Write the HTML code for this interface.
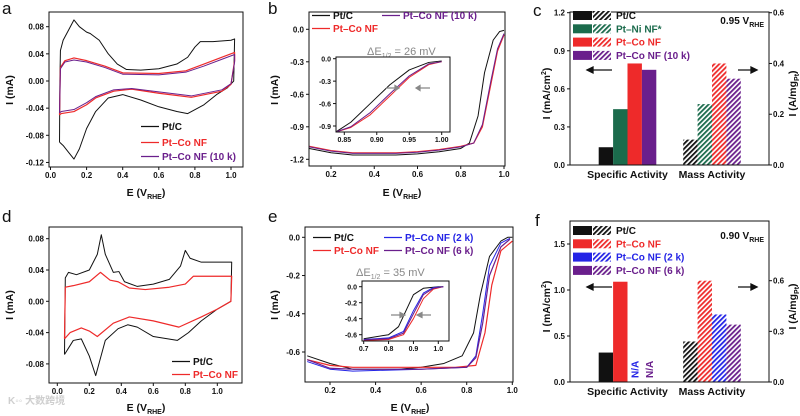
<!DOCTYPE html>
<html><head><meta charset="utf-8">
<style>
html,body{margin:0;padding:0;background:#fff;}
svg{display:block;font-family:"Liberation Sans","Noto Sans CJK SC",sans-serif;}
.t{font-size:8px;font-weight:bold;fill:#111;}
.ti{font-size:7px;font-weight:bold;fill:#111;}
.at{font-size:10.5px;font-weight:bold;fill:#111;}
.lg{font-size:10px;font-weight:bold;}
.pl{font-size:17px;fill:#111;}
</style></head>
<body>
<svg id="fig" width="800" height="416" viewBox="0 0 800 416">
<defs>
<pattern id="h-black" width="3.5" height="3.5" patternUnits="userSpaceOnUse" patternTransform="rotate(45)"><rect width="3.5" height="3.5" fill="#fff"/><rect width="1.8" height="3.5" fill="#111"/></pattern>
<pattern id="h-green" width="3.5" height="3.5" patternUnits="userSpaceOnUse" patternTransform="rotate(45)"><rect width="3.5" height="3.5" fill="#fff"/><rect width="1.8" height="3.5" fill="#1b6b4c"/></pattern>
<pattern id="h-red" width="3.5" height="3.5" patternUnits="userSpaceOnUse" patternTransform="rotate(45)"><rect width="3.5" height="3.5" fill="#fff"/><rect width="1.8" height="3.5" fill="#ee2a2a"/></pattern>
<pattern id="h-purple" width="3.5" height="3.5" patternUnits="userSpaceOnUse" patternTransform="rotate(45)"><rect width="3.5" height="3.5" fill="#fff"/><rect width="1.8" height="3.5" fill="#6a1f8c"/></pattern>
<pattern id="h-blue" width="3.5" height="3.5" patternUnits="userSpaceOnUse" patternTransform="rotate(45)"><rect width="3.5" height="3.5" fill="#fff"/><rect width="1.8" height="3.5" fill="#2424e6"/></pattern>
</defs>
</svg>
<script>
// ---------- data ----------
// panel a (CV)
const aE_pt = [0.05,0.052,0.055,0.07,0.1,0.13,0.16,0.2,0.22,0.27,0.32,0.37,0.42,0.5,0.6,0.7,0.76,0.8,0.83,0.9,1.0,1.02,1.015,0.98,0.92,0.85,0.76,0.7,0.6,0.5,0.4,0.32,0.25,0.2,0.16,0.13,0.1,0.07,0.05,0.05];
const aI_pt = [-0.09,0.0,0.045,0.06,0.075,0.09,0.08,0.072,0.07,0.06,0.04,0.025,0.017,0.016,0.018,0.025,0.035,0.05,0.058,0.058,0.06,0.062,0.0,-0.01,-0.02,-0.035,-0.048,-0.045,-0.038,-0.028,-0.02,-0.025,-0.045,-0.07,-0.1,-0.115,-0.105,-0.095,-0.09,-0.09];
const aE_co = [0.05,0.055,0.08,0.13,0.2,0.3,0.4,0.6,0.75,0.85,0.95,1.02,1.02,1.0,0.95,0.78,0.6,0.45,0.35,0.25,0.2,0.13,0.06,0.05];
const aI_co = [-0.05,0.02,0.03,0.034,0.03,0.022,0.012,0.011,0.015,0.025,0.035,0.042,0.03,-0.005,-0.015,-0.024,-0.018,-0.012,-0.015,-0.025,-0.035,-0.045,-0.048,-0.05];
const aI_10k = [-0.047,0.018,0.028,0.031,0.028,0.02,0.01,0.009,0.013,0.022,0.032,0.039,0.028,-0.004,-0.013,-0.022,-0.016,-0.011,-0.013,-0.023,-0.032,-0.042,-0.045,-0.047];
// panel b (LSV)
const bE_pt = [0.1,0.2,0.3,0.5,0.6,0.7,0.8,0.84,0.88,0.91,0.95,0.98,1.0];
const bI_pt = [-1.10,-1.14,-1.16,-1.16,-1.15,-1.13,-1.10,-1.05,-0.8,-0.4,-0.1,-0.02,-0.01];
const bE_co = [0.1,0.2,0.3,0.5,0.6,0.7,0.8,0.86,0.9,0.94,0.97,1.0];
const bI_co = [-1.08,-1.12,-1.14,-1.14,-1.13,-1.11,-1.08,-1.05,-0.9,-0.5,-0.2,-0.05];
const bI_10k = [-1.085,-1.125,-1.145,-1.145,-1.135,-1.115,-1.085,-1.05,-0.88,-0.47,-0.18,-0.04];
const biE = [0.837,0.86,0.89,0.92,0.95,0.98,1.0];
const biI_pt = [-0.98,-0.85,-0.6,-0.35,-0.15,-0.05,-0.03];
const biI_co = [-0.98,-0.92,-0.75,-0.5,-0.25,-0.08,-0.04];
const biI_10k = [-0.98,-0.91,-0.72,-0.47,-0.23,-0.07,-0.04];
// panel c (bars)
const cCats = ['Specific Activity','Mass Activity'];
const cSeries = ['Pt/C','Pt–Ni NF*','Pt–Co NF','Pt–Co NF (10 k)'];
const cSpecific = [0.14,0.44,0.80,0.75];
const cMass = [0.10,0.24,0.40,0.34];
const cLeftTicks = ['0.0','0.3','0.6','0.9','1.2'];
const cRightTicks = ['0.0','0.2','0.4','0.6'];
// panel d (CV)
const dE_pt = [0.045,0.05,0.07,0.12,0.2,0.25,0.275,0.3,0.35,0.385,0.42,0.5,0.6,0.7,0.77,0.8,0.83,0.9,1.09,1.085,1.0,0.9,0.82,0.75,0.6,0.5,0.44,0.38,0.3,0.24,0.2,0.15,0.1,0.045];
const dI_pt = [-0.068,0.03,0.037,0.034,0.04,0.06,0.085,0.06,0.037,0.038,0.025,0.019,0.022,0.028,0.045,0.065,0.055,0.05,0.05,0.0,-0.01,-0.025,-0.04,-0.05,-0.045,-0.033,-0.03,-0.035,-0.05,-0.095,-0.07,-0.048,-0.05,-0.068];
const dE_co = [0.045,0.05,0.1,0.2,0.27,0.33,0.38,0.45,0.55,0.7,0.8,0.85,1.09,1.085,1.0,0.9,0.76,0.6,0.45,0.35,0.25,0.2,0.15,0.08,0.045];
const dI_co = [-0.048,0.018,0.02,0.025,0.037,0.027,0.025,0.017,0.015,0.018,0.022,0.032,0.032,0.0,-0.01,-0.02,-0.033,-0.025,-0.02,-0.028,-0.045,-0.038,-0.034,-0.04,-0.048];
// panel e (LSV)
const eE_pt = [0.1,0.2,0.3,0.5,0.6,0.7,0.78,0.83,0.86,0.9,0.95,0.98,1.0];
const eI_pt = [-0.62,-0.66,-0.69,-0.69,-0.68,-0.66,-0.62,-0.5,-0.3,-0.1,-0.02,0.0,0.0];
const eE_co = [0.1,0.2,0.3,0.6,0.75,0.84,0.88,0.91,0.95,1.0];
const eI_co = [-0.64,-0.67,-0.68,-0.68,-0.68,-0.67,-0.5,-0.25,-0.07,-0.02];
const eE_2k = [0.1,0.2,0.3,0.6,0.8,0.84,0.87,0.9,0.95,0.99];
const eI_2k = [-0.65,-0.69,-0.70,-0.69,-0.68,-0.62,-0.4,-0.15,-0.03,-0.005];
const eI_6k = [-0.64,-0.685,-0.69,-0.69,-0.68,-0.63,-0.45,-0.2,-0.05,-0.01];
const eiE_pt = [0.7,0.8,0.84,0.87,0.9,0.94,1.0,1.02];
const eiI_pt = [-0.65,-0.6,-0.5,-0.3,-0.1,-0.02,0.0,0.0];
const eiE_co = [0.7,0.8,0.86,0.9,0.94,0.98,1.02];
const eiI_co = [-0.67,-0.66,-0.6,-0.4,-0.15,-0.03,0.0];
const eiI_2k = [-0.66,-0.64,-0.56,-0.3,-0.08,-0.01,0.0];
const eiI_6k = [-0.665,-0.65,-0.58,-0.34,-0.1,-0.02,0.0];
// panel f (bars)
const fSeries = ['Pt/C','Pt–Co NF','Pt–Co NF (2 k)','Pt–Co NF (6 k)'];
const fSpecific = [0.32,1.09,null,null];
const fMass = [0.24,0.60,0.40,0.34];
const fLeftTicks = ['0.0','0.5','1.0','1.5'];
const fRightTicks = ['0.0','0.3','0.6'];

// ---------- helpers ----------
const NS='http://www.w3.org/2000/svg';
const svg=document.getElementById('fig');
function mk(tag,attrs,parent){const e=document.createElementNS(NS,tag);for(const k in attrs)e.setAttribute(k,attrs[k]);(parent||svg).appendChild(e);return e;}
function lin(d0,d1,r0,r1){return v=>r0+(v-d0)/(d1-d0)*(r1-r0);}
const K='#111',RED='#ee2a2a',PUR='#6a1f8c',GRN='#1b6b4c',BLU='#2424e6';

function txt(x,y,s,cls,anchor,parent,fill){const e=mk('text',{x:x,y:y,class:cls,'text-anchor':anchor||'start'},parent);if(fill)e.setAttribute('fill',fill);e.textContent=s;return e;}

function frame(g,b){const r=mk('rect',{x:b.l,y:b.t,width:b.r-b.l,height:b.b-b.t,fill:'none',stroke:K,'stroke-width':1},g);}

function xAxis(g,b,sx,vals,labels,cls,off){
  vals.forEach((v,i)=>{const x=sx(v);
    const t=mk('line',{x1:x,x2:x,y1:b.b,y2:b.b+3,stroke:K},g);
    
    const l=txt(x,b.b+off,labels[i],cls,'middle',g);
    });
}
function yAxis(g,b,sy,vals,labels,cls,side){
  vals.forEach((v,i)=>{const y=sy(v);
    const x0=side==='r'?b.r:b.l, d=side==='r'?3:-3;
    const t=mk('line',{x1:x0,x2:x0+d,y1:y,y2:y,stroke:K},g);
    
    const l=txt(side==='r'?b.r+4:b.l-5,y+3,labels[i],cls,side==='r'?'start':'end',g);
    });
}
function curve(g,xs,ys,sx,sy,color,w){
  const d=xs.map((x,i)=>(i?'L':'M')+sx(x).toFixed(2)+' '+sy(ys[i]).toFixed(2)).join(' ');
  return mk('path',{d:d,fill:'none',stroke:color,'stroke-width':w||1,'stroke-linejoin':'round'},g);
}
function xTitle(g,x,y){const e=mk('text',{x:x,y:y,class:'at','text-anchor':'middle'},g);
  e.innerHTML='E (V<tspan font-size="7" dy="3">RHE</tspan><tspan dy="-3">)</tspan>';
  }
function yTitle(g,x,y,html,name){const e=mk('text',{x:0,y:0,class:'at','text-anchor':'middle',transform:`translate(${x},${y}) rotate(-90)`},g);
  e.innerHTML=html;}
function legLine(g,x,y,color,label,w){
  const l=mk('line',{x1:x,x2:x+18,y1:y-3.5,y2:y-3.5,stroke:color,'stroke-width':w||1.3},g);
  
  const t=txt(x+21,y,label,'lg','start',g,color===K?K:color);
  
}
function panelLabel(x,y,s){const e=txt(x,y,s,'pl','start');}

// ---------- panel a ----------
(function(){
 const g=mk('g',{});
 const b={l:49,r:243,t:12,b:167};
 const sx=lin(0,1,50.5,231), sy=lin(0,0.08,81,26.7);
 curve(g,aE_pt,aI_pt,sx,sy,K,1);
 curve(g,aE_co,aI_co,sx,sy,RED,1.2);
 curve(g,aE_co,aI_10k,sx,sy,PUR,1);
 frame(g,b);
 xAxis(g,b,sx,[0,0.2,0.4,0.6,0.8,1.0],['0.0','0.2','0.4','0.6','0.8','1.0'],'t',11);
 yAxis(g,b,sy,[0.08,0.04,0,-0.04,-0.08,-0.12],['0.08','0.04','0.00','-0.04','-0.08','-0.12'],'t');
 xTitle(g,146,196);yTitle(g,13,90,'I (mA)');
 legLine(g,141,130,K,'Pt/C');legLine(g,141,146,RED,'Pt–Co NF');legLine(g,141,160,PUR,'Pt–Co NF (10 k)');
 panelLabel(2,14,'a');
})();

// ---------- panel b ----------
(function(){
 const g=mk('g',{});
 const b={l:309,r:505,t:12,b:166};
 const sx=lin(0.2,1.0,331,504), sy=lin(0,-1.2,29.3,159.3);
 curve(g,bE_pt,bI_pt,sx,sy,K,1);
 curve(g,bE_co,bI_co,sx,sy,RED,1.2);
 curve(g,bE_co,bI_10k,sx,sy,PUR,1);
 frame(g,b);
 xAxis(g,b,sx,[0.2,0.4,0.6,0.8,1.0],['0.2','0.4','0.6','0.8','1.0'],'t',11);
 yAxis(g,b,sy,[0,-0.3,-0.6,-0.9,-1.2],['0.0','-0.3','-0.6','-0.9','-1.2'],'t');
 xTitle(g,402,196);yTitle(g,278,90,'I (mA)');
 legLine(g,312,19,K,'Pt/C');legLine(g,312,32,RED,'Pt–Co NF');legLine(g,382,19,PUR,'Pt–Co NF (10 k)');
 const de=mk('text',{x:367,y:55,'font-size':'11','fill':'#888'},g);de.innerHTML='ΔE<tspan font-size="7" dy="3">1/2</tspan><tspan dy="-3"> = 26 mV</tspan>';
 
 const gi=mk('g',{},g);
 const bi={l:336,r:450,t:57,b:132};
 const ix=lin(0.85,1.0,344.3,441.7), iy=lin(0,-0.9,58.7,126);
 mk('rect',{x:bi.l,y:bi.t,width:bi.r-bi.l,height:bi.b-bi.t,fill:'#fff'},gi);
 curve(gi,biE,biI_pt,ix,iy,K,1);
 curve(gi,biE,biI_co,ix,iy,RED,1);
 curve(gi,biE,biI_10k,ix,iy,PUR,1);
 frame(gi,bi);
 xAxis(gi,bi,ix,[0.85,0.9,0.95,1.0],['0.85','0.90','0.95','1.00'],'ti',10);
 yAxis(gi,bi,iy,[0,-0.3,-0.6,-0.9],['0.0','-0.3','-0.6','-0.9'],'ti');
 const a1=mk('path',{d:'M 386 88 L 399 88 M 399 88 L 395 85.5 L 395 90.5 Z',stroke:'#888',fill:'#888','stroke-width':1.2},gi);
 
 const a2=mk('path',{d:'M 430 88 L 416 88 M 416 88 L 420 85.5 L 420 90.5 Z',stroke:'#888',fill:'#888','stroke-width':1.2},gi);
 
 panelLabel(268,14,'b');
})();

// ---------- bar panel helper ----------
function barPanel(name,b,top,leftVals,leftTicks,rightVals,rightTicks,lMax,rMax,specific,mass,series,colors,hatch,vlabel,lyTop){
 const g=mk('g',{});
 const syL=lin(0,lMax,b.b,lyTop[0]), syR=lin(0,rMax,b.b,lyTop[1]);
 const gx=lin(0,1,627.5,712), w=14.4, n=series.length;
 specific.forEach((v,i)=>{const x=gx(0)+(i-n/2)*w;
   if(v===null){const t=mk('text',{x:0,y:0,class:'lg',fill:colors[i],transform:`translate(${x+w/2+4},${b.b-4}) rotate(-90)`},g);t.textContent='N/A';
     return;}
   const r=mk('rect',{x:x,y:syL(v),width:w,height:b.b-syL(v),fill:colors[i]},g);
   });
 mass.forEach((v,i)=>{const x=gx(1)+(i-n/2)*w;
   const r=mk('rect',{x:x,y:syR(v),width:w,height:b.b-syR(v),fill:'url(#'+hatch[i]+')'},g);
   });
 frame(g,b);
 yAxis(g,b,syL,leftVals,leftTicks,'t');
 yAxis(g,b,syR,rightVals,rightTicks,'t','r');
 cCats.forEach((c,i)=>{const t=txt(gx(i),b.b+13,c,'at','middle',g);});
 yTitle(g,550,(b.t+b.b)/2+5,'I (mA/cm<tspan font-size="7" dy="-4">2</tspan><tspan dy="4">)</tspan>','y-axis-title-left');
 yTitle(g,796,(b.t+b.b)/2+5,'I (A/mg<tspan font-size="7" dy="3">Pt</tspan><tspan dy="-3">)</tspan>','y-axis-title-right');
 series.forEach((s,i)=>{const y=top+i*13.3;
   const r1=mk('rect',{x:573,y:y-8,width:19,height:9,fill:colors[i]},g);
   const r2=mk('rect',{x:593,y:y-8,width:18,height:9,fill:'url(#'+hatch[i]+')'},g);
   const t=txt(616,y,s,'lg','start',g,colors[i]);});
 const vt=mk('text',{x:764,y:top+5,class:'lg','text-anchor':'end',fill:K},g);
 vt.innerHTML=vlabel+' V<tspan font-size="7" dy="3">RHE</tspan>';
 return g;
}
function arrows(g,y){
 const a=mk('path',{d:`M 612 ${y} L 590 ${y} M 587 ${y} L 593 ${y-3} L 593 ${y+3} Z`,stroke:K,fill:K,'stroke-width':1.3},g);
 
 const c=mk('path',{d:`M 738 ${y} L 754 ${y} M 757 ${y} L 751 ${y-3} L 751 ${y+3} Z`,stroke:K,fill:K,'stroke-width':1.3},g);
 
}

// ---------- panel c ----------
(function(){
 const b={l:570,r:769,t:12,b:165};
 const g=barPanel('panel-c-activity',b,19,[0,0.3,0.6,0.9,1.2],cLeftTicks,[0,0.2,0.4,0.6],cRightTicks,1.2,0.6,cSpecific,cMass,cSeries,[K,GRN,RED,PUR],['h-black','h-green','h-red','h-purple'],'0.95',[12.7,12.7]);
 arrows(g,70);
 panelLabel(533,16,'c');
})();

// ---------- panel d ----------
(function(){
 const g=mk('g',{});
 const b={l:49,r:242,t:227,b:383};
 const sx=lin(0,1,57.3,217.3), sy=lin(0,0.08,301.3,238.7);
 curve(g,dE_pt,dI_pt,sx,sy,K,1);
 curve(g,dE_co,dI_co,sx,sy,RED,1.2);
 frame(g,b);
 xAxis(g,b,sx,[0,0.2,0.4,0.6,0.8,1.0],['0.0','0.2','0.4','0.6','0.8','1.0'],'t',11);
 yAxis(g,b,sy,[0.08,0.04,0,-0.04,-0.08],['0.08','0.04','0.00','-0.04','-0.08'],'t');
 xTitle(g,146,411);yTitle(g,13,305,'I (mA)');
 legLine(g,172,365,K,'Pt/C');legLine(g,172,378,RED,'Pt–Co NF');
 panelLabel(2,222,'d');
 const wm=txt(8,404,'K◦◦ 大数跨境','lg','start',g,'#cfcfcf');wm.setAttribute('font-size','15');
})();

// ---------- panel e ----------
(function(){
 const g=mk('g',{});
 const b={l:305,r:513,t:227,b:382};
 const sx=lin(0.2,1.0,330,512.3), sy=lin(0,-0.6,237.3,352);
 curve(g,eE_pt,eI_pt,sx,sy,K,1);
 curve(g,eE_co,eI_co,sx,sy,RED,1.2);
 curve(g,eE_2k,eI_2k,sx,sy,BLU,1);
 curve(g,eE_2k,eI_6k,sx,sy,PUR,1.2);
 frame(g,b);
 xAxis(g,b,sx,[0.2,0.4,0.6,0.8,1.0],['0.2','0.4','0.6','0.8','1.0'],'t',11);
 yAxis(g,b,sy,[0,-0.2,-0.4,-0.6],['0.0','-0.2','-0.4','-0.6'],'t');
 xTitle(g,410,411);yTitle(g,278,305,'I (mA)');
 legLine(g,313,241,K,'Pt/C');legLine(g,313,254,RED,'Pt–Co NF');
 legLine(g,384,241,BLU,'Pt–Co NF (2 k)');legLine(g,384,254,PUR,'Pt–Co NF (6 k)');
 const de=mk('text',{x:356,y:276,'font-size':'11','fill':'#888'},g);de.innerHTML='ΔE<tspan font-size="7" dy="3">1/2</tspan><tspan dy="-3"> = 35 mV</tspan>';
 
 const gi=mk('g',{},g);
 const bi={l:362,r:449,t:281,b:341};
 const ix=lin(0.7,1.0,363.7,438.3), iy=lin(0,-0.6,286.7,334.7);
 mk('rect',{x:bi.l,y:bi.t,width:bi.r-bi.l,height:bi.b-bi.t,fill:'#fff'},gi);
 curve(gi,eiE_pt,eiI_pt,ix,iy,K,1);
 curve(gi,eiE_co,eiI_co,ix,iy,RED,1);
 curve(gi,eiE_co,eiI_2k,ix,iy,BLU,1);
 curve(gi,eiE_co,eiI_6k,ix,iy,PUR,1);
 frame(gi,bi);
 xAxis(gi,bi,ix,[0.7,0.8,0.9,1.0],['0.7','0.8','0.9','1.0'],'ti',10);
 yAxis(gi,bi,iy,[0,-0.2,-0.4,-0.6],['0.0','-0.2','-0.4','-0.6'],'ti');
 const a1=mk('path',{d:'M 391 315 L 402 315 M 405 315 L 400 312.5 L 400 317.5 Z',stroke:'#888',fill:'#888','stroke-width':1.2},gi);
 
 const a2=mk('path',{d:'M 431 315 L 420 315 M 417 315 L 422 312.5 L 422 317.5 Z',stroke:'#888',fill:'#888','stroke-width':1.2},gi);
 
 panelLabel(268,222,'e');
})();

// ---------- panel f ----------
(function(){
 const b={l:570,r:769,t:221,b:382};
 const g=barPanel('panel-f-activity',b,234,[0,0.5,1.0,1.5],fLeftTicks,[0,0.3,0.6],fRightTicks,1.5,0.6,fSpecific,fMass,fSeries,[K,RED,BLU,PUR],['h-black','h-red','h-blue','h-purple'],'0.90',[244,280.7]);
 arrows(g,287);
 panelLabel(535,226,'f');
})();
</script>
</body></html>
